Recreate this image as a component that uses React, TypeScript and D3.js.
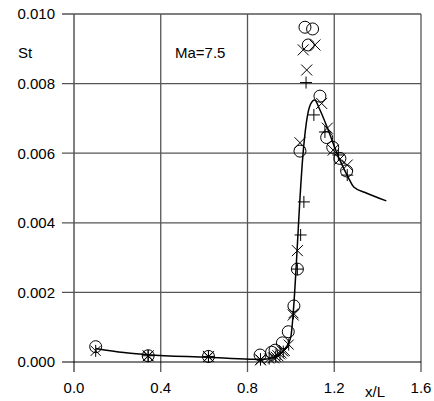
import React from "react";
import * as d3 from "d3";

const xTicks = [0.0, 0.4, 0.8, 1.2, 1.6];
const yTicks = [0.0, 0.002, 0.004, 0.006, 0.008, 0.01];

const lineData: [number, number][] = [
  [0.10, 0.00039], [0.23, 0.00027], [0.34, 0.00021], [0.62, 0.000135], [0.81, 0.00008],
  [0.87, 0.00007], [0.93, 0.00016], [0.98, 0.00044], [1.0, 0.00073], [1.012, 0.0015],
  [1.025, 0.0028], [1.04, 0.0045], [1.055, 0.0059], [1.072, 0.0069], [1.09, 0.0074],
  [1.11, 0.00753], [1.13, 0.0073], [1.17, 0.0067], [1.2, 0.0062], [1.226, 0.0058],
  [1.265, 0.0053], [1.29, 0.00503], [1.35, 0.00485], [1.44, 0.00463],
];

const circles: [number, number][] = [
  [0.10, 0.00044], [0.342, 0.00018], [0.62, 0.00016], [0.858, 0.0002], [0.911, 0.00028],
  [0.927, 0.00034], [0.961, 0.00055], [0.988, 0.00087], [1.014, 0.00161], [1.03, 0.00267],
  [1.042, 0.00606], [1.065, 0.00962], [1.10, 0.00957], [1.08, 0.00911], [1.134, 0.00764],
  [1.165, 0.00645], [1.193, 0.00617], [1.226, 0.00585], [1.257, 0.00549],
];

const crosses: [number, number][] = [
  [0.342, 0.00018], [0.62, 0.00016], [0.86, 0.00006], [0.92, 0.00012], [0.94, 0.00018],
  [0.955, 0.00026], [0.97, 0.00033], [1.011, 0.00135], [1.03, 0.0032], [1.042, 0.0063],
  [1.057, 0.00897], [1.073, 0.00839], [1.111, 0.00911], [1.142, 0.00743], [1.168, 0.00672],
  [1.195, 0.00609], [1.226, 0.00583], [1.26, 0.00566],
];

const pluses: [number, number][] = [
  [0.342, 0.00018], [0.62, 0.00016], [0.86, 0.00008], [1.03, 0.00267], [1.045, 0.00365],
  [1.06, 0.0046], [1.07, 0.00803], [1.106, 0.0071], [1.157, 0.00661], [1.219, 0.00595],
  [1.26, 0.00537],
];

const asterisks: [number, number][] = [
  [0.10, 0.00032], [0.342, 0.00017], [0.62, 0.00015], [0.86, 0.00007], [0.90, 0.0001],
  [0.93, 0.00015], [0.95, 0.00022], [0.965, 0.0003], [0.99, 0.0005], [1.012, 0.0014],
];

const W = 434, H = 401;
const x = d3.scaleLinear().domain([0, 1.6]).range([74, 421]);
const y = d3.scaleLinear().domain([0, 0.01]).range([362, 14]);
const font = "'Liberation Sans', Arial, sans-serif";

export default function App() {
  const line = d3.line<[number, number]>().x(d => x(d[0])).y(d => y(d[1])).curve(d3.curveMonotoneX);
  const r = 6, s = 5.5;
  return (
    <svg width={W} height={H} style={{ position: "absolute", left: 0, top: 0, background: "#fff" }}>
      {/* grid */}
      {xTicks.map((t, i) => (
        <line key={"gx" + i} x1={x(t)} x2={x(t)} y1={y(0.01)} y2={y(0) + 10}
          stroke={i === 0 ? "#000" : "#555"} strokeWidth={i === 0 ? 1 : 1.3} />
      ))}
      {yTicks.map((t, i) => (
        <line key={"gy" + i} x1={x(0) - 12} x2={x(1.6)} y1={y(t)} y2={y(t)}
          stroke={i === 0 ? "#000" : "#555"} strokeWidth={i === 0 ? 1 : 1.3} />
      ))}
      {/* line */}
      <path d={line(lineData) || ""} fill="none" stroke="#000" strokeWidth={1.5} />
      {/* markers */}
      {circles.map((d, i) => (
        <circle key={"c" + i} cx={x(d[0])} cy={y(d[1])} r={r} fill="none" stroke="#000" strokeWidth={1} />
      ))}
      {crosses.map((d, i) => (
        <path key={"x" + i}
          d={`M${x(d[0]) - s},${y(d[1]) - s}L${x(d[0]) + s},${y(d[1]) + s}M${x(d[0]) - s},${y(d[1]) + s}L${x(d[0]) + s},${y(d[1]) - s}`}
          stroke="#000" strokeWidth={1} fill="none" />
      ))}
      {pluses.map((d, i) => (
        <path key={"p" + i}
          d={`M${x(d[0]) - 6},${y(d[1])}L${x(d[0]) + 6},${y(d[1])}M${x(d[0])},${y(d[1]) - 6}L${x(d[0])},${y(d[1]) + 6}`}
          stroke="#000" strokeWidth={1} fill="none" />
      ))}
      {asterisks.map((d, i) => {
        const cx = x(d[0]), cy = y(d[1]), a = 5;
        return (
          <path key={"a" + i}
            d={`M${cx},${cy - 6}L${cx},${cy + 6}M${cx - a},${cy - a}L${cx + a},${cy + a}M${cx - a},${cy + a}L${cx + a},${cy - a}`}
            stroke="#000" strokeWidth={1} fill="none" />
        );
      })}
      {/* tick labels */}
      {yTicks.map((t, i) => (
        <text key={"ly" + i} x={55} y={y(t)} dy="0.36em" textAnchor="end"
          fontFamily={font} fontSize={15} fill="#000">{d3.format(".3f")(t)}</text>
      ))}
      {xTicks.map((t, i) => (
        <text key={"lx" + i} x={x(t)} y={388} dy="0.36em" textAnchor="middle"
          fontFamily={font} fontSize={15} fill="#000">{d3.format(".1f")(t)}</text>
      ))}
      <text x={365} y={392} dy="0.36em" fontFamily={font} fontSize={15} fill="#000">x/L</text>
      <text x={18} y={53} dy="0.36em" fontFamily={font} fontSize={15} fill="#000">St</text>
      <text x={175} y={53} dy="0.36em" fontFamily={font} fontSize={15} fill="#000">Ma=7.5</text>
    </svg>
  );
}
